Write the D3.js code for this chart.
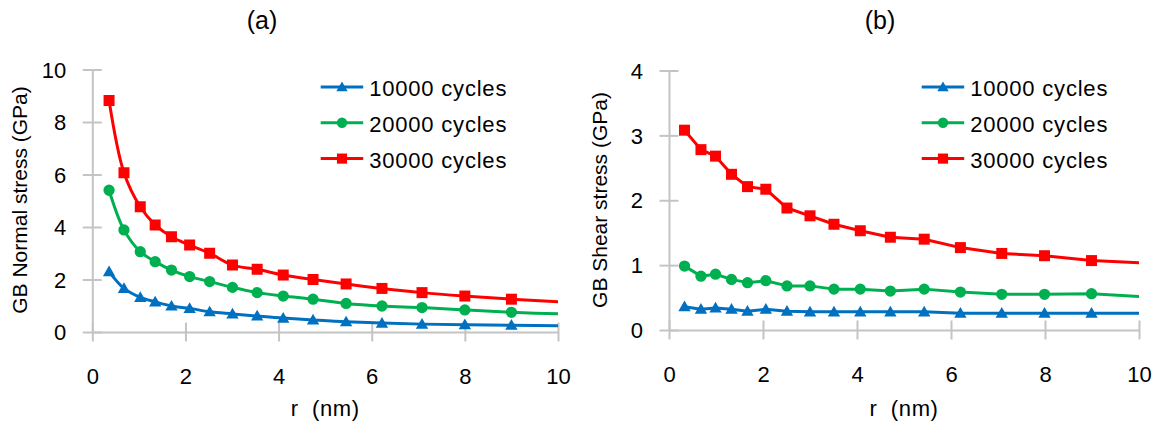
<!DOCTYPE html>
<html>
<head>
<meta charset="utf-8">
<script src="https://cdn.jsdelivr.net/npm/d3@7"></script>
<style>
  html, body { margin: 0; padding: 0; background: #fff; }
  svg { display: block; font-family: "Liberation Sans", Arial, sans-serif; }
  text { white-space: pre; }
</style>
</head>
<body>
<svg id="chart" width="1161" height="426"></svg>
<script>
// ---------------- DATA ----------------
const seriesNames = ["10000 cycles", "20000 cycles", "30000 cycles"];

// Panel (a): GB normal stress
const rNormal = [0.36, 0.68, 1.03, 1.35, 1.70, 2.09, 2.52, 3.01, 3.54, 4.10, 4.74, 5.45, 6.22, 7.08, 8.00, 9.00, 10.2];
const normal10k = [2.30, 1.66, 1.32, 1.15, 0.99, 0.90, 0.77, 0.69, 0.61, 0.53, 0.46, 0.39, 0.34, 0.30, 0.28, 0.26, 0.235];
const normal20k = [5.40, 3.89, 3.06, 2.68, 2.36, 2.11, 1.92, 1.70, 1.50, 1.37, 1.25, 1.09, 0.99, 0.93, 0.84, 0.75, 0.68];
const normal30k = [8.82, 6.07, 4.77, 4.08, 3.63, 3.31, 3.00, 2.55, 2.39, 2.17, 2.00, 1.83, 1.66, 1.50, 1.37, 1.25, 1.13];

// Panel (b): GB shear stress
const rShear = [0.33, 0.68, 0.99, 1.33, 1.67, 2.06, 2.51, 3.00, 3.51, 4.07, 4.71, 5.43, 6.20, 7.08, 7.99, 8.99, 10.2];
const shear10k = [0.36, 0.32, 0.34, 0.32, 0.29, 0.32, 0.29, 0.28, 0.28, 0.28, 0.28, 0.28, 0.26, 0.26, 0.26, 0.26, 0.26];
const shear20k = [0.985, 0.83, 0.86, 0.78, 0.73, 0.76, 0.68, 0.68, 0.63, 0.63, 0.60, 0.63, 0.585, 0.55, 0.55, 0.56, 0.51];
const shear30k = [3.08, 2.78, 2.68, 2.40, 2.21, 2.17, 1.88, 1.76, 1.63, 1.53, 1.43, 1.40, 1.27, 1.18, 1.145, 1.07, 1.03];

const xTicks = [0, 2, 4, 6, 8, 10];
const yTicksNormal = [0, 2, 4, 6, 8, 10];
const yTicksShear = [0, 1, 2, 3, 4];

// ---------------- STYLE ----------------
const colors = ["#0070C0", "#00B050", "#FF0000"];
const symbols = [d3.symbolTriangle, d3.symbolCircle, d3.symbolSquare];
const symSizes = [66, 100, 121];
const axisColor = "#C4C4C4";
const fontSize = 22;

const svg = d3.select("#chart");

function panel(cfg) {
  const x = d3.scaleLinear().domain([0, 10]).range([cfg.x0, cfg.x1]);
  const y = d3.scaleLinear().domain([0, cfg.yMax]).range([cfg.yBottom, cfg.yTop]);
  const g = svg.append("g");

  const clipId = "clip-" + cfg.id;
  svg.append("defs").append("clipPath").attr("id", clipId)
    .append("rect").attr("x", cfg.x0 - 20).attr("y", 0)
    .attr("width", cfg.x1 - cfg.x0 + 20).attr("height", 426);

  const ax = g.append("g").attr("transform", `translate(0,${cfg.yBottom})`)
    .call(d3.axisBottom(x).tickValues(xTicks).tickSizeOuter(0).tickFormat(d3.format("d")));
  ax.select(".domain").attr("stroke", axisColor).attr("stroke-width", 2);
  ax.selectAll(".tick line").attr("stroke", axisColor).attr("stroke-width", 2)
    .attr("y1", -9.5).attr("y2", 9.5);
  ax.selectAll(".tick text").attr("y", 44).attr("dy", "0.35em")
    .attr("font-size", fontSize).attr("fill", "#000")
    .attr("font-family", "Liberation Sans, Arial, sans-serif");

  const ay = g.append("g").attr("transform", `translate(${cfg.x0},0)`)
    .call(d3.axisLeft(y).tickValues(cfg.yTicks).tickSizeOuter(0).tickFormat(d3.format("d")));
  ay.select(".domain").attr("stroke", axisColor).attr("stroke-width", 2);
  ay.selectAll(".tick line").attr("stroke", axisColor).attr("stroke-width", 2)
    .attr("x1", -9.5).attr("x2", 9.5);
  ay.selectAll(".tick text").attr("x", -26).attr("dy", "0.35em")
    .attr("font-size", fontSize).attr("fill", "#000")
    .attr("font-family", "Liberation Sans, Arial, sans-serif");

  const plot = g.append("g").attr("clip-path", `url(#${clipId})`);
  const line = d3.line().x(d => x(d[0])).y(d => y(d[1])).curve(cfg.curve);
  cfg.series.forEach((vals, i) => {
    const pts = cfg.r.map((rv, k) => [rv, vals[k]]);
    plot.append("path").datum(pts).attr("d", line)
      .attr("fill", "none").attr("stroke", colors[i]).attr("stroke-width", 3)
      .attr("stroke-linejoin", "round");
    plot.selectAll(null).data(pts).enter().append("path")
      .attr("transform", d => `translate(${x(d[0])},${y(d[1]) + (i === 0 ? 1 : 0)})`)
      .attr("d", d3.symbol().type(symbols[i]).size(symSizes[i]))
      .attr("fill", colors[i]);
  });

  seriesNames.forEach((name, i) => {
    const ly = cfg.legY + i * 35.8;
    g.append("line").attr("x1", cfg.legX).attr("x2", cfg.legX + 42.5)
      .attr("y1", ly).attr("y2", ly).attr("stroke", colors[i]).attr("stroke-width", 3);
    g.append("path").attr("transform", `translate(${cfg.legX + 21.3},${ly + (i === 0 ? 1 : 0)})`)
      .attr("d", d3.symbol().type(symbols[i]).size(symSizes[i] * 0.85)).attr("fill", colors[i]);
    g.append("text").attr("x", cfg.legX + 48.5).attr("y", ly + 1.5).attr("dy", "0.35em")
      .attr("font-size", fontSize).attr("letter-spacing", "0.8px").text(name);
  });

  g.append("text").attr("x", cfg.titleX).attr("y", 20).attr("dy", "0.35em")
    .attr("text-anchor", "middle").attr("font-size", 25).text(cfg.title);
  g.append("text").attr("x", (cfg.x0 + cfg.x1) / 2).attr("y", 408).attr("dy", "0.35em")
    .attr("text-anchor", "middle").attr("font-size", fontSize)
    .attr("letter-spacing", "0.6px").text("r  (nm)");
  g.append("text")
    .attr("transform", `translate(${cfg.yLabelX},${cfg.yLabelY}) rotate(-90)`)
    .attr("dy", "0.35em").attr("text-anchor", "middle")
    .attr("font-size", 21).text(cfg.yLabel);
}

panel({
  id: "a", x0: 92.3, x1: 558, yBottom: 332, yTop: 69.5, yMax: 10,
  yTicks: yTicksNormal, r: rNormal, series: [normal10k, normal20k, normal30k],
  curve: d3.curveCatmullRom.alpha(0.5),
  legX: 320.7, legY: 87, title: "(a)", titleX: 262,
  yLabel: "GB Normal stress (GPa)", yLabelX: 20, yLabelY: 200
});

panel({
  id: "b", x0: 669, x1: 1139, yBottom: 330, yTop: 70.5, yMax: 4,
  yTicks: yTicksShear, r: rShear, series: [shear10k, shear20k, shear30k],
  curve: d3.curveLinear,
  legX: 921.7, legY: 87, title: "(b)", titleX: 880,
  yLabel: "GB Shear stress (GPa)", yLabelX: 600, yLabelY: 200
});
</script>
</body>
</html>
